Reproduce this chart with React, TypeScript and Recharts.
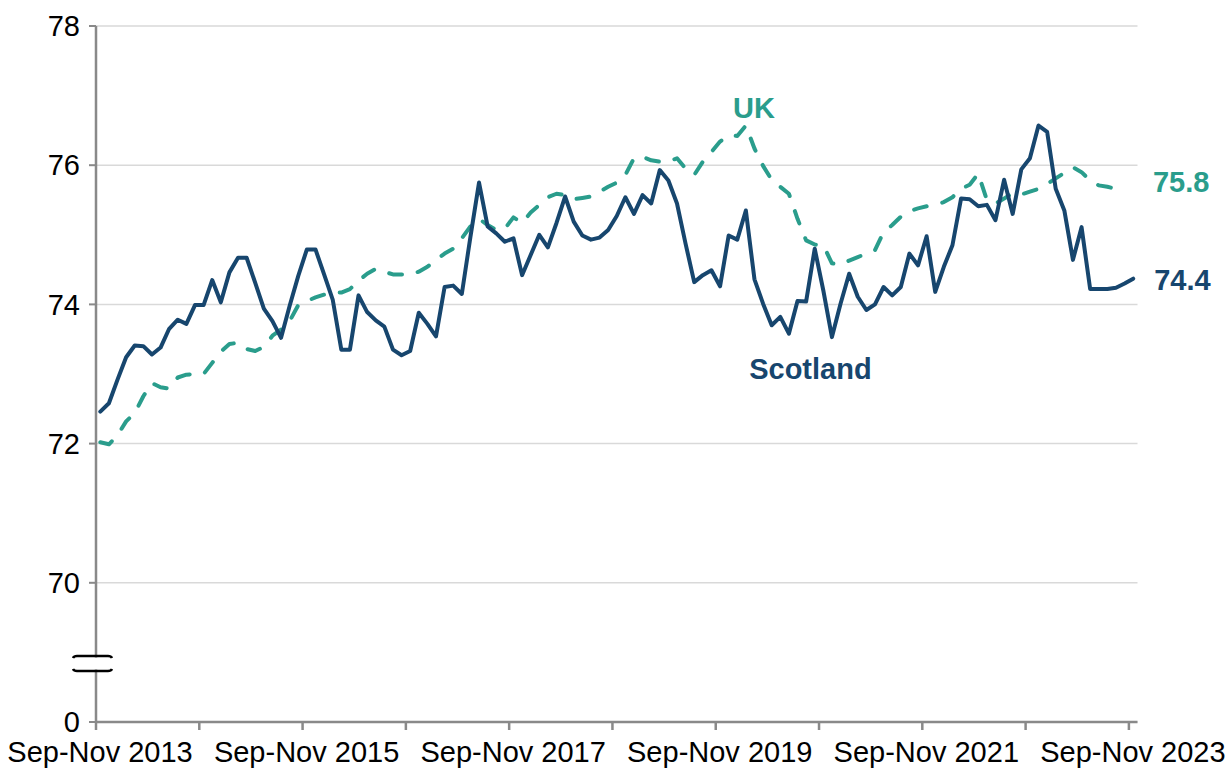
import React from 'react';
import { LineChart, Line, XAxis, YAxis, CartesianGrid, ReferenceDot } from 'recharts';

// monthly rolling quarters, Sep-Nov 2013 .. Sep-Nov 2023
const scotland = [
  72.46, 72.58, 72.92, 73.24, 73.41, 73.40, 73.28, 73.38, 73.65, 73.78, 73.72, 73.99,
  73.99, 74.35, 74.03, 74.46, 74.67, 74.67, 74.31, 73.94, 73.76, 73.52, 73.98, 74.41,
  74.79, 74.79, 74.43, 74.07, 73.35, 73.35, 74.13, 73.89, 73.77, 73.68, 73.35, 73.27,
  73.33, 73.88, 73.72, 73.54, 74.25, 74.27, 74.15, 74.97, 75.75, 75.12, 75.02, 74.90,
  74.95, 74.42, 74.71, 75.00, 74.82, 75.17, 75.55, 75.19, 74.99, 74.93, 74.96, 75.07,
  75.27, 75.54, 75.30, 75.57, 75.45, 75.93, 75.78, 75.45, 74.87, 74.32, 74.42, 74.49,
  74.26, 74.99, 74.93, 75.35, 74.36, 74.01, 73.70, 73.82, 73.58, 74.05, 74.04, 74.80,
  74.20, 73.53, 74.01, 74.44, 74.11, 73.92, 74.00, 74.25, 74.13, 74.25, 74.73, 74.56,
  74.98, 74.18, 74.54, 74.85, 75.52, 75.51, 75.41, 75.43, 75.21, 75.79, 75.30, 75.94,
  76.10, 76.57, 76.48, 75.66, 75.35, 74.64, 75.11, 74.22, 74.22, 74.22, 74.24, 74.30,
  74.37,
];

const uk = [
  72.02, 71.99, 72.12, 72.32, 72.44, 72.68, 72.87, 72.81, 72.79, 72.95, 72.99, 73.00,
  73.00, 73.16, 73.32, 73.43, 73.45, 73.36, 73.33, 73.39, 73.55, 73.64, 73.76, 73.99,
  74.05, 74.10, 74.14, 74.17, 74.17, 74.22, 74.34, 74.44, 74.51, 74.47, 74.43, 74.43,
  74.43, 74.47, 74.54, 74.64, 74.73, 74.80, 74.95, 75.12, 75.23, 75.14, 75.07, 75.09,
  75.25, 75.17, 75.32, 75.43, 75.54, 75.59, 75.57, 75.51, 75.53, 75.55, 75.62, 75.69,
  75.75, 75.86, 76.10, 76.12, 76.07, 76.05, 76.05, 76.10, 75.95, 75.86, 76.05, 76.19,
  76.34, 76.43, 76.42, 76.57, 76.24, 75.99, 75.79, 75.69, 75.59, 75.23, 74.92, 74.86,
  74.85, 74.59, 74.57, 74.63, 74.68, 74.73, 74.78, 75.04, 75.14, 75.26, 75.34, 75.38,
  75.41, 75.43, 75.47, 75.54, 75.66, 75.72, 75.88, 75.50, 75.45, 75.52, 75.60, 75.58,
  75.62, 75.66, 75.73, 75.81, 75.89, 75.97, 75.90, 75.78, 75.71, 75.69, 75.66,
];

const tickLabels = [
  'Sep-Nov 2013', 'Sep-Nov 2015', 'Sep-Nov 2017', 'Sep-Nov 2019', 'Sep-Nov 2021', 'Sep-Nov 2023',
];
const yTicks = [68, 70, 72, 74, 76, 78]; // 68 stands in for the broken-off 0
const latestLabels = { uk: '75.8', scotland: '74.4' };

const SCOT = '#17466e';
const UKC = '#2a9d8c';
const AXIS = '#898989';
const FONT = "'Liberation Sans', Arial, sans-serif";

const data = scotland.map((v, i) => ({ i, scotland: v, uk: i < uk.length ? uk[i] : null }));
const yearTicks = Array.from({ length: 11 }, (_, k) => k * 12 - 0.5);

const XTick = (props: any) => {
  const k = Math.round((props.payload.value + 0.5) / 12);
  if (k % 2 !== 0) return null;
  return (
    <text x={props.x + 4} y={props.y + 32} textAnchor="middle" fill="#000" fontSize={29} fontFamily={FONT}>
      {tickLabels[k / 2]}
    </text>
  );
};

// axis break: two bracket-like strokes with the axis cut out between them
const BreakMark = (p: any) => {
  const ax = p.cx;
  const cy = p.cy;
  const top = `M${ax - 23},${cy - 5.5} Q${ax - 22},${cy - 7.5} ${ax - 19},${cy - 7.5} L${ax + 12},${cy - 7.5} Q${ax + 15},${cy - 7.5} ${ax + 16},${cy - 5.5}`;
  const bot = `M${ax - 23},${cy + 5.5} Q${ax - 22},${cy + 7.5} ${ax - 19},${cy + 7.5} L${ax + 12},${cy + 7.5} Q${ax + 15},${cy + 7.5} ${ax + 16},${cy + 5.5}`;
  return (
    <g>
      <rect x={ax - 3} y={cy - 6} width={6} height={12} fill="#fff" />
      <path d={top} fill="none" stroke="#000" strokeWidth={2.6} />
      <path d={bot} fill="none" stroke="#000" strokeWidth={2.6} />
    </g>
  );
};

const textAt = (txt: string, color: string, dx: number, dy: number, anchor: string) => (p: any) => (
  <text
    x={p.cx + dx} y={p.cy + dy} textAnchor={anchor} dominantBaseline="central"
    fill={color} fontSize={29} fontWeight="bold" fontFamily={FONT}
  >
    {txt}
  </text>
);

export default function App() {
  const lastScot = scotland.length - 1;
  const lastUk = uk.length - 1;
  return (
    <div style={{ position: 'absolute', left: 0, top: 0, background: '#fff' }}>
      <LineChart width={1231} height={773} data={data} margin={{ top: 26, right: 93.5, left: 0, bottom: 0 }}>
        <CartesianGrid vertical={false} stroke="#d9d9d9" strokeWidth={1.5} />
        <XAxis
          dataKey="i" type="number" domain={[-0.5, 120.5]} ticks={yearTicks} interval={0}
          height={51} tickSize={8} tickMargin={0} tick={<XTick />}
          stroke={AXIS} strokeWidth={2.5} tickLine={{ stroke: AXIS, strokeWidth: 2.5 }}
        />
        <YAxis
          type="number" domain={[68, 78]} ticks={yTicks} interval={0} width={96}
          tickSize={7} tickMargin={9} stroke={AXIS} strokeWidth={2.5}
          tickLine={{ stroke: AXIS, strokeWidth: 2 }}
          tick={{ fill: '#000', fontSize: 29, fontFamily: FONT }}
          tickFormatter={(v: number) => (v === 68 ? '0' : String(v))}
        />
        <Line
          dataKey="uk" stroke={UKC} strokeWidth={4} strokeDasharray="13 16" strokeLinecap="round"
          strokeLinejoin="round" dot={false} activeDot={false} isAnimationActive={false} connectNulls={false}
        />
        <Line
          dataKey="scotland" stroke={SCOT} strokeWidth={4} strokeLinejoin="round" strokeLinecap="round"
          dot={false} activeDot={false} isAnimationActive={false}
        />
        <ReferenceDot x={-0.5} y={68.84} r={0} ifOverflow="visible" shape={BreakMark} />
        <ReferenceDot x={75.95} y={76.82} r={0} ifOverflow="visible" shape={textAt('UK', UKC, 0, 0, 'middle')} />
        <ReferenceDot x={82.5} y={73.07} r={0} ifOverflow="visible" shape={textAt('Scotland', SCOT, 0, 0, 'middle')} />
        <ReferenceDot
          x={lastUk} y={uk[lastUk]} r={0} ifOverflow="visible"
          shape={textAt(latestLabels.uk, UKC, 37, -6.5, 'start')}
        />
        <ReferenceDot
          x={lastScot} y={scotland[lastScot]} r={0} ifOverflow="visible"
          shape={textAt(latestLabels.scotland, SCOT, 21, 1.5, 'start')}
        />
      </LineChart>
    </div>
  );
}
